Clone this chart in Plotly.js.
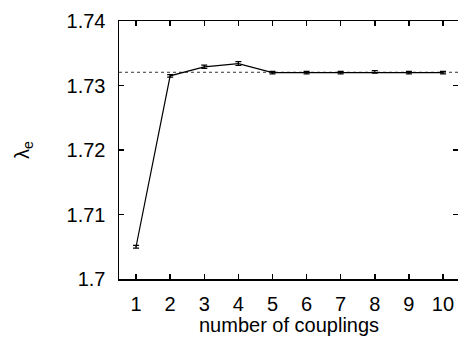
<!DOCTYPE html>
<html><head><meta charset="utf-8">
<script src="https://cdn.plot.ly/plotly-3.0.1.min.js"></script>
<style>html,body{margin:0;padding:0;background:#fff}</style>
</head><body>
<div id="chart" style="width:458px;height:341px"></div>
<script>
const couplings = [1, 2, 3, 4, 5, 6, 7, 8, 9, 10];
const lambdaE = [1.7050, 1.7315, 1.7329, 1.7334, 1.7320, 1.7320, 1.7320, 1.7321, 1.7320, 1.7320];
const lambdaErr = [0.0002, 0.0002, 0.00025, 0.0003, 0.0002, 0.0002, 0.0002, 0.0002, 0.0002, 0.0002];
const referenceValue = 1.73205;
const refX = [0.5, 10.6];
const yTicks = [1.70, 1.71, 1.72, 1.73, 1.74];
const yTickText = ["1.7", "1.71", "1.72", "1.73", "1.74"];
const xTitle = "number of couplings";
const yTitle = "λ<sub>e</sub>";

const font = {family: "Liberation Sans, Arial, sans-serif", size: 20, color: "#000"};

const traces = [
  {x: refX, y: [referenceValue, referenceValue], mode: "lines", type: "scatter",
   line: {color: "#333", width: 1, dash: "dot"}, hoverinfo: "skip", showlegend: false},
  {x: couplings, y: lambdaE, mode: "lines", type: "scatter",
   line: {color: "#000", width: 1.2},
   error_y: {type: "data", array: lambdaErr, visible: true, color: "#000", thickness: 1.2, width: 3},
   showlegend: false}
];

const layout = {
  width: 458, height: 341,
  margin: {l: 119, r: 0, t: 21, b: 62},
  paper_bgcolor: "#fff", plot_bgcolor: "#fff",
  font: font,
  xaxis: {
    range: [0.5, 10.44], tickvals: couplings, ticks: "inside", ticklen: 5, tickwidth: 1.5,
    tickcolor: "#000", showline: true, linecolor: "#000", linewidth: 1.5, mirror: "allticks",
    showgrid: false, zeroline: false, tickfont: font, ticklabelstandoff: 6
  },
  yaxis: {
    range: [1.70, 1.74], tickvals: yTicks, ticktext: yTickText, ticks: "inside", ticklen: 5, tickwidth: 1.5,
    tickcolor: "#000", showline: true, linecolor: "#000", linewidth: 1.5, mirror: "allticks",
    showgrid: false, zeroline: false, tickfont: font, ticklabelstandoff: 8
  },
  annotations: [
    {text: yTitle, textangle: -90, showarrow: false,
     xref: "paper", yref: "paper", x: (23 - 119) / 339, y: 0.5,
     xanchor: "center", yanchor: "middle", font: font},
    {text: xTitle, showarrow: false,
     xref: "paper", yref: "paper", x: 0.5, y: -(325 - 279) / 258,
     xanchor: "center", yanchor: "middle", font: font}
  ]
};

Plotly.newPlot("chart", traces, layout, {displayModeBar: false, staticPlot: true});
</script>
</body></html>
